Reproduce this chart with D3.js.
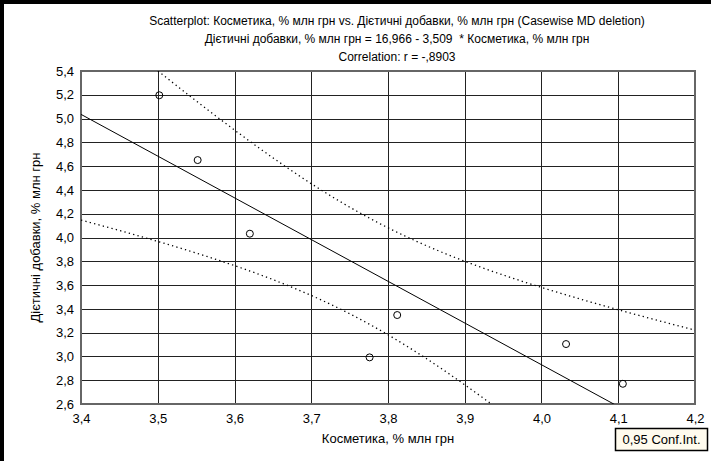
<!DOCTYPE html>
<html><head><meta charset="utf-8">
<script src="https://cdn.jsdelivr.net/npm/d3@7"></script>
<style>
html,body{margin:0;padding:0;background:#fff;}
svg{display:block;font-family:"Liberation Sans",Arial,sans-serif;}
</style></head>
<body><svg id="c" width="711" height="461"></svg>
<script>
// Data
const xValues = [3.502, 3.552, 3.620, 3.812, 3.776, 4.032, 4.106];
const yValues = [5.196, 4.651, 4.032, 3.348, 2.992, 3.104, 2.770];
const intercept = 16.966;
const slope = -3.509;
const xTicks = [3.4, 3.5, 3.6, 3.7, 3.8, 3.9, 4.0, 4.1, 4.2];
const yTicks = [2.6, 2.8, 3.0, 3.2, 3.4, 3.6, 3.8, 4.0, 4.2, 4.4, 4.6, 4.8, 5.0, 5.2, 5.4];
const titleLines = [
  "Scatterplot: Косметика, % млн грн vs. Дієтичні добавки, % млн грн (Casewise MD deletion)",
  "Дієтичні добавки, % млн грн = 16,966 - 3,509  * Косметика, % млн грн",
  "Correlation: r = -,8903"
];
const xTitle = "Косметика, % млн грн";
const yTitle = "Дієтичні добавки, % млн грн";
const legendText = "0,95 Conf.Int.";
const tCrit = 2.5706; // t(0.975, df=5)

const svg = d3.select("#c");
const L = 81, R = 695, T = 71, B = 404;
const x = d3.scaleLinear().domain([3.4, 4.2]).range([L, R]);
const y = d3.scaleLinear().domain([2.6, 5.4]).range([B, T]);
const fmt = v => d3.format(".1f")(v).replace(".", ",");

// outer frame (top & left black bars)
svg.append("rect").attr("x",0).attr("y",0).attr("width",711).attr("height",4).attr("fill","#000");
svg.append("rect").attr("x",0).attr("y",0).attr("width",4).attr("height",461).attr("fill","#000");

// titles
const tY = [25, 43, 61];
titleLines.forEach((s,i)=>{
  svg.append("text").attr("x",397).attr("y",tY[i]).attr("text-anchor","middle")
    .attr("font-size",12).attr("fill","#000").style("white-space","pre").text(s);
});

// grid
const g = svg.append("g").attr("shape-rendering","crispEdges");
g.selectAll(".vg").data(xTicks).join("line")
  .attr("x1",d=>Math.round(x(d))+0.5).attr("x2",d=>Math.round(x(d))+0.5)
  .attr("y1",T).attr("y2",B).attr("stroke","#222").attr("stroke-width",1);
g.selectAll(".hg").data(yTicks).join("line")
  .attr("y1",d=>Math.round(y(d))+0.5).attr("y2",d=>Math.round(y(d))+0.5)
  .attr("x1",L).attr("x2",R).attr("stroke","#222").attr("stroke-width",1);
// frame
g.append("rect").attr("x",L).attr("y",T).attr("width",R-L).attr("height",B-T)
  .attr("fill","none").attr("stroke","#666").attr("stroke-width",1.5);

// axes (labels only, via d3 axes)
const xAxis = svg.append("g").attr("transform",`translate(0,${B})`)
  .call(d3.axisBottom(x).tickValues(xTicks).tickFormat(fmt).tickSize(0).tickPadding(10));
xAxis.select(".domain").remove();
xAxis.selectAll("text").attr("font-size",13).attr("fill","#000").attr("font-family","Liberation Sans, Arial, sans-serif");
const yAxis = svg.append("g").attr("transform",`translate(${L},0)`)
  .call(d3.axisLeft(y).tickValues(yTicks).tickFormat(fmt).tickSize(0).tickPadding(7));
yAxis.select(".domain").remove();
yAxis.selectAll("text").attr("font-size",13).attr("fill","#000").attr("font-family","Liberation Sans, Arial, sans-serif");

// axis titles
svg.append("text").attr("x",(L+R)/2).attr("y",443).attr("text-anchor","middle")
  .attr("font-size",13).text(xTitle);
svg.append("text").attr("transform",`translate(40,${(T+B)/2}) rotate(-90)`)
  .attr("text-anchor","middle").attr("font-size",13).text(yTitle);

// clip
svg.append("clipPath").attr("id","pc").append("rect")
  .attr("x",L).attr("y",T).attr("width",R-L).attr("height",B-T);
const plot = svg.append("g").attr("clip-path","url(#pc)");

// confidence band computed from the data
const n = xValues.length;
const xm = d3.mean(xValues);
const sxx = d3.sum(xValues, v => (v-xm)*(v-xm));
const sse = d3.sum(xValues, (v,i) => { const r = yValues[i] - (intercept + slope*v); return r*r; });
const s = Math.sqrt(sse/(n-2));
const grid = d3.range(0, 201).map(i => 3.4 + i*0.8/200);
const hw = v => tCrit*s*Math.sqrt(1/n + (v-xm)*(v-xm)/sxx);
const line = d3.line().x(d=>x(d[0])).y(d=>y(d[1]));
plot.append("path").datum(grid.map(v=>[v, intercept+slope*v+hw(v)]))
  .attr("d",line).attr("fill","none").attr("stroke","#000").attr("stroke-width",1.3).attr("stroke-dasharray","1.3,3.2");
plot.append("path").datum(grid.map(v=>[v, intercept+slope*v-hw(v)]))
  .attr("d",line).attr("fill","none").attr("stroke","#000").attr("stroke-width",1.3).attr("stroke-dasharray","1.3,3.2");
// regression line
plot.append("path").datum([[3.4, intercept+slope*3.4],[4.2, intercept+slope*4.2]])
  .attr("d",line).attr("fill","none").attr("stroke","#000").attr("stroke-width",1);

// points
svg.selectAll(".pt").data(xValues.map((v,i)=>[v,yValues[i]])).join("circle")
  .attr("cx",d=>x(d[0])).attr("cy",d=>y(d[1])).attr("r",3.5)
  .attr("fill","none").attr("stroke","#000").attr("stroke-width",1);

// legend box
const lg = svg.append("g");
lg.append("rect").attr("x",615.5).attr("y",428.5).attr("width",92).attr("height",22)
  .attr("fill","#fffbee").attr("stroke","#000").attr("stroke-width",1.5);
lg.append("text").attr("x",661.5).attr("y",444).attr("text-anchor","middle").attr("font-size",13).text(legendText);
</script></body></html>
